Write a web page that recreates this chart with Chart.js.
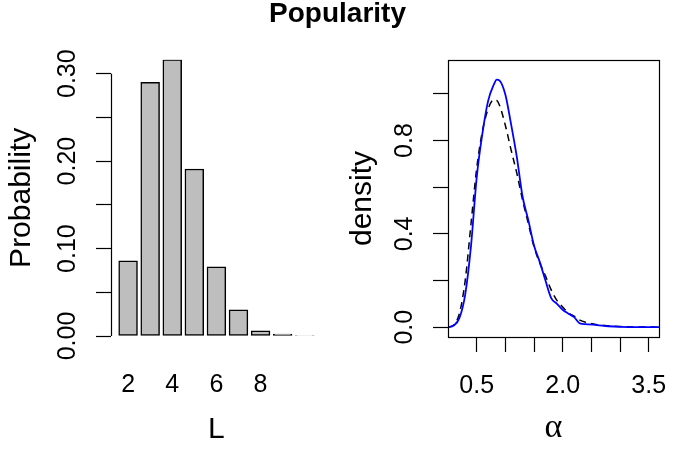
<!DOCTYPE html>
<html>
<head>
<meta charset="utf-8">
<script src="https://cdn.jsdelivr.net/npm/chart.js@4/dist/chart.umd.min.js"></script>
<style>
html,body{margin:0;padding:0;background:#fff;}
#wrap{position:relative;width:675px;height:450px;overflow:hidden;}
canvas{position:absolute;left:0;top:0;}
</style>
</head>
<body>
<div id="wrap">
<canvas id="left" width="675" height="450"></canvas>
<canvas id="right" width="675" height="450"></canvas>
</div>
<script>
// ---------- data ----------
const chartTitle = 'Popularity';
const lValues = [2, 3, 4, 5, 6, 7, 8, 9, 10];
const probabilities = [0.086, 0.290, 0.316, 0.191, 0.079, 0.030, 0.006, 0.0023, 0.0006];
const lTickLabels = [2, 4, 6, 8];
const probTickValues = [0, 0.05, 0.10, 0.15, 0.20, 0.25, 0.30];
const probTickLabels = ['0.00', '0.10', '0.20', '0.30'];
const probLabelValues = [0, 0.10, 0.20, 0.30];
const leftXTitle = 'L';
const leftYTitle = 'Probability';

const alphaGrid = [0, 0.1, 0.2, 0.3, 0.4, 0.5, 0.6, 0.7, 0.8, 0.85, 0.9, 1.0, 1.1, 1.2, 1.3, 1.4, 1.5, 1.6, 1.7, 1.8, 1.9, 2.0, 2.1, 2.2, 2.3, 2.4, 2.6, 2.8, 3.0, 3.3, 3.68];
const densitySolid = [0, 0.007, 0.04, 0.14, 0.345, 0.64, 0.83, 0.97, 1.04, 1.061, 1.057, 0.997, 0.87, 0.73, 0.56, 0.46, 0.35, 0.28, 0.20, 0.125, 0.10, 0.075, 0.058, 0.043, 0.016, 0.013, 0.009, 0.004, 0.0015, 0.0005, 0];
const densityDashed = [0, 0.01, 0.06, 0.2, 0.44, 0.68, 0.84, 0.935, 0.975, 0.972, 0.95, 0.865, 0.76, 0.66, 0.545, 0.445, 0.345, 0.275, 0.22, 0.16, 0.115, 0.087, 0.061, 0.047, 0.03, 0.021, 0.011, 0.006, 0.003, 0.001, 0.0002];
const alphaTickValues = [0.5, 1.0, 1.5, 2.0, 2.5, 3.0, 3.5];
const alphaTickLabels = ['0.5', '2.0', '3.5'];
const alphaLabelValues = [0.5, 2.0, 3.5];
const densTickValues = [0, 0.2, 0.4, 0.6, 0.8, 1.0];
const densTickLabels = ['0.0', '0.4', '0.8'];
const densLabelValues = [0, 0.4, 0.8];
const rightXTitle = 'α';
const rightYTitle = 'density';

// ---------- styling ----------
const FONT = '"Liberation Sans", Arial, Helvetica, sans-serif';
const TICK_SIZE = 25;
const LAB_SIZE = 30;

function drawRotated(ctx, text, x, y, font) {
  ctx.save();
  ctx.translate(x, y);
  ctx.rotate(-Math.PI / 2);
  ctx.font = font;
  ctx.fillStyle = '#000';
  ctx.textAlign = 'center';
  ctx.textBaseline = 'alphabetic';
  ctx.fillText(text, 0, 0);
  ctx.restore();
}
function drawText(ctx, text, x, y, font) {
  ctx.save();
  ctx.font = font;
  ctx.fillStyle = '#000';
  ctx.textAlign = 'center';
  ctx.textBaseline = 'alphabetic';
  ctx.fillText(text, x, y);
  ctx.restore();
}
function crisp(v) { return Math.round(v - 0.5) + 0.5; }

const leftDecor = {
  id: 'leftDecor',
  afterDraw(chart) {
    const ctx = chart.ctx, y = chart.scales.y, ca = chart.chartArea;
    ctx.save();
    ctx.strokeStyle = '#000';
    ctx.lineWidth = 1.2;
    ctx.beginPath();
    const ax = crisp(ca.left);
    ctx.moveTo(ax, y.getPixelForValue(probTickValues[0]));
    ctx.lineTo(ax, y.getPixelForValue(probTickValues[probTickValues.length - 1]));
    ctx.stroke();
    ctx.restore();
    probLabelValues.forEach((v, i) => {
      drawRotated(ctx, probTickLabels[i], ca.left - 36, y.getPixelForValue(v), `${TICK_SIZE}px ${FONT}`);
    });
    drawRotated(ctx, leftYTitle, 30, (ca.top + ca.bottom) / 2, `${LAB_SIZE}px ${FONT}`);
    drawText(ctx, leftXTitle, (ca.left + ca.right) / 2, 437.5, `${LAB_SIZE}px ${FONT}`);
    drawText(ctx, chartTitle, chart.width / 2, 22, `bold 28px ${FONT}`);
  }
};

const rightDecor = {
  id: 'rightDecor',
  afterDraw(chart) {
    const ctx = chart.ctx, y = chart.scales.y, ca = chart.chartArea;
    ctx.save();
    ctx.strokeStyle = '#000';
    ctx.lineWidth = 1.2;
    ctx.strokeRect(crisp(ca.left), crisp(ca.top), Math.round(ca.right - ca.left), Math.round(ca.bottom - ca.top));
    ctx.restore();
    densLabelValues.forEach((v, i) => {
      drawRotated(ctx, densTickLabels[i], ca.left - 36.3, y.getPixelForValue(v), `${TICK_SIZE}px ${FONT}`);
    });
    drawRotated(ctx, rightYTitle, 371, (ca.top + ca.bottom) / 2, `${LAB_SIZE}px ${FONT}`);
    drawText(ctx, rightXTitle, (ca.left + ca.right) / 2, 437, `34px "Liberation Serif", "DejaVu Serif", serif`);
  }
};

// ---------- left: bar chart ----------
new Chart(document.getElementById('left'), {
  type: 'bar',
  data: {
    datasets: [{
      data: lValues.map((l, i) => ({ x: l, y: probabilities[i] })),
      backgroundColor: '#bebebe',
      borderColor: '#000',
      borderWidth: 1.5,
      borderSkipped: false,
      barThickness: 18.8
    }]
  },
  options: {
    responsive: false,
    animation: false,
    events: [],
    layout: { padding: { left: 0, top: 59.7, right: 353.2, bottom: 0 } },
    plugins: {
      legend: { display: false },
      tooltip: { enabled: false },
      title: { display: false }
    },
    scales: {
      x: {
        type: 'linear',
        offset: false,
        bounds: 'data',
        min: 1.226,
        max: 10.774,
        afterBuildTicks: s => { s.ticks = lTickLabels.map(v => ({ value: v })); },
        afterFit: s => { s.height = 114; },
        grid: { display: true, offset: false, drawOnChartArea: false, drawTicks: true, tickLength: 34, tickColor: 'rgba(0,0,0,0)' },
        border: { display: false },
        ticks: { color: '#000', font: { family: FONT, size: TICK_SIZE }, padding: 0, maxRotation: 0, autoSkip: false, callback: v => String(v) }
      },
      y: {
        type: 'linear',
        bounds: 'data',
        min: 0,
        max: Math.max(...probabilities),
        afterBuildTicks: s => { s.ticks = probTickValues.map(v => ({ value: v })); },
        afterFit: s => { s.width = 111; },
        grid: { display: true, drawOnChartArea: false, drawTicks: true, tickLength: 15, tickColor: '#000', tickWidth: 1.2 },
        border: { display: false },
        ticks: { display: false }
      }
    }
  },
  plugins: [leftDecor]
});

// ---------- right: density curves ----------
new Chart(document.getElementById('right'), {
  type: 'line',
  data: {
    datasets: [
      {
        data: alphaGrid.map((a, i) => ({ x: a, y: densitySolid[i] })),
        borderColor: '#0000ff',
        borderWidth: 1.8,
        pointRadius: 0,
        fill: false,
        cubicInterpolationMode: 'monotone'
      },
      {
        data: alphaGrid.map((a, i) => ({ x: a, y: densityDashed[i] })),
        borderColor: '#000',
        borderWidth: 1.5,
        borderDash: [7, 5],
        pointRadius: 0,
        fill: false,
        cubicInterpolationMode: 'monotone'
      }
    ]
  },
  options: {
    responsive: false,
    animation: false,
    events: [],
    layout: { padding: { left: 348, top: 60, right: 16, bottom: 0 } },
    plugins: { legend: { display: false }, tooltip: { enabled: false }, title: { display: false } },
    scales: {
      x: {
        type: 'linear',
        offset: false,
        bounds: 'data',
        min: 0,
        max: 3.68,
        afterBuildTicks: s => { s.ticks = alphaTickValues.map(v => ({ value: v })); },
        afterFit: s => { s.height = 113; },
        grid: { display: true, drawOnChartArea: false, drawTicks: true, tickLength: 34, tickColor: '#000', tickWidth: 1.2, tickBorderDash: [15, 60] },
        border: { display: false },
        ticks: {
          color: '#000', font: { family: FONT, size: TICK_SIZE }, padding: 0, maxRotation: 0, autoSkip: false,
          callback: v => { const k = alphaLabelValues.findIndex(a => Math.abs(a - v) < 1e-6); return k >= 0 ? alphaTickLabels[k] : ''; }
        }
      },
      y: {
        type: 'linear',
        bounds: 'data',
        min: -0.042,
        max: 1.145,
        afterBuildTicks: s => { s.ticks = densTickValues.map(v => ({ value: v })); },
        afterFit: s => { s.width = 100; },
        grid: { display: true, drawOnChartArea: false, drawTicks: true, tickLength: 15, tickColor: '#000', tickWidth: 1.2 },
        border: { display: false },
        ticks: { display: false }
      }
    }
  },
  plugins: [rightDecor]
});
</script>
</body>
</html>
